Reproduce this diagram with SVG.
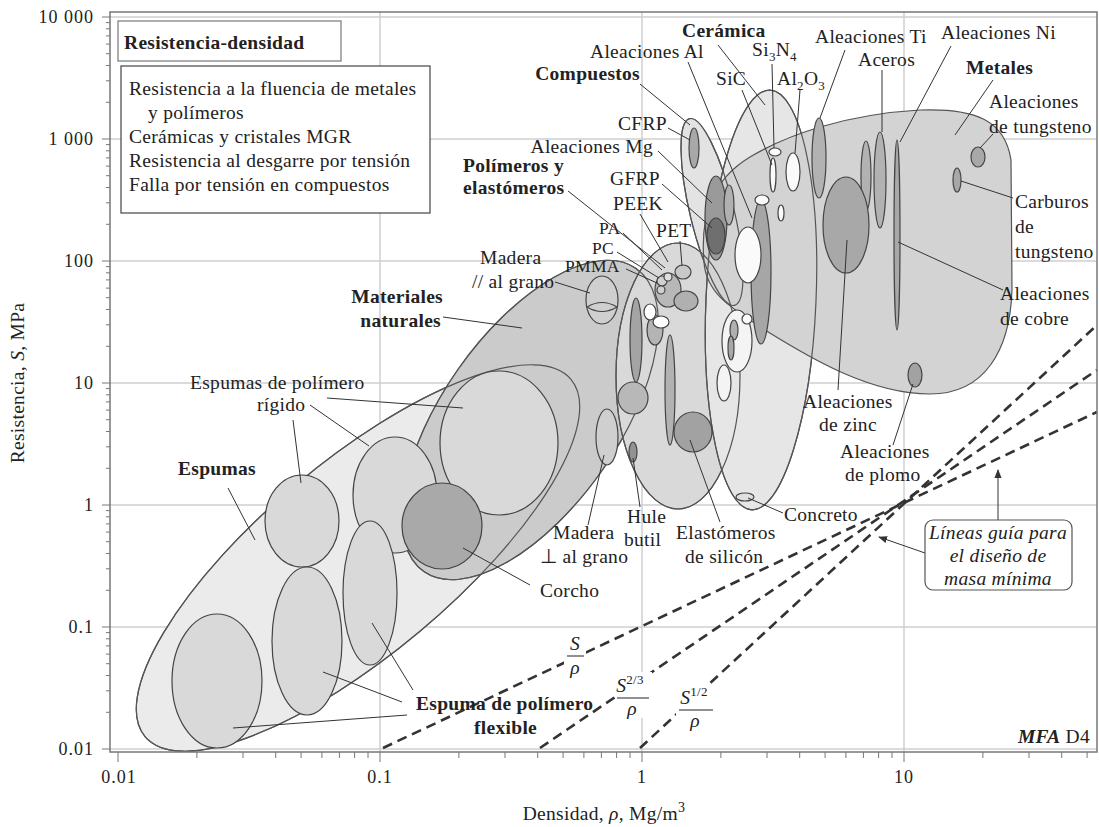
<svg xmlns="http://www.w3.org/2000/svg" width="1099" height="827" viewBox="0 0 1099 827">
<defs>
<marker id="ah" viewBox="0 0 10 10" refX="9" refY="5" markerWidth="9" markerHeight="9" orient="auto-start-reverse" markerUnits="userSpaceOnUse"><path d="M0,1 L10,5 L0,9 Z" fill="#333"/></marker>
<style>
text{font-family:"Liberation Serif","Times New Roman",serif;font-size:19.5px;letter-spacing:0.3px;fill:#222}
.b{font-weight:bold}
.i{font-style:italic}
.tk{font-size:18px;letter-spacing:1px}
.sub{font-size:13px}
.sm{font-size:17.5px;letter-spacing:0.3px}
.grid{stroke:#cfcfcf;stroke-width:1.5;fill:none}
.tick{stroke:#777;stroke-width:1;fill:none}
.env{stroke:#555;stroke-width:1.2}
.ol{stroke:#555;stroke-width:1.2;fill:none}
.bub{stroke:#444;stroke-width:1.2}
.ldr{stroke:#333;stroke-width:1;fill:none}
.gl{stroke:#333;stroke-width:2.6;stroke-dasharray:10 6;fill:none}
</style>
</defs>
<rect width="1099" height="827" fill="#fff"/>

<g id="grid">
<path class="grid" d="M110,17H1097M110,139H1097M110,261H1097M110,383H1097M110,505H1097M110,627H1097M110,749H1097M380,12V752M642,12V752M904,12V752"/>
</g>

<g id="envelopes">
<g id="espumas"><ellipse class="env" cx="358" cy="558" rx="278" ry="96" transform="rotate(-40 358 558)" fill="#ebebeb"/></g>
<g id="naturales"><ellipse class="env" cx="530" cy="420" rx="185" ry="88" transform="rotate(-55 530 420)" fill="#cbcbcb"/></g>
<g id="polimeros"><ellipse class="env" cx="678" cy="376" rx="62" ry="133" fill="#d9d9d9"/></g>
<g id="compuestos"><ellipse class="env" cx="712" cy="212" rx="22" ry="96" transform="rotate(-13.5 712 212)" fill="#e3e3e3"/></g>
<g id="ceramica"><ellipse class="env" cx="761" cy="300" rx="55" ry="210" transform="rotate(2.5 761 300)" fill="#e6e6e6"/></g>
<g id="metales"><path class="env" fill="#d3d3d3" d="M704,262 C700,215 712,180 750,157 C790,133 850,114 920,110 C975,108 1005,120 1011,160 L1012,290 C1010,350 985,394 930,394 C870,394 810,358 765,330 C735,310 706,295 704,262 Z"/></g>
<g id="outlines">
<ellipse class="ol" cx="358" cy="558" rx="278" ry="96" transform="rotate(-40 358 558)"/>
<ellipse class="ol" cx="530" cy="420" rx="185" ry="88" transform="rotate(-55 530 420)"/>
<ellipse class="ol" cx="678" cy="376" rx="62" ry="133"/>
<ellipse class="ol" cx="712" cy="212" rx="22" ry="96" transform="rotate(-13.5 712 212)"/>
<ellipse class="ol" cx="761" cy="300" rx="55" ry="210" transform="rotate(2.5 761 300)"/>
</g>
</g>

<g id="bubbles">
<g id="espumas-rigidas">
<ellipse class="bub" cx="302" cy="521" rx="37" ry="46" fill="#d9d9d9"/>
<ellipse class="bub" cx="395" cy="495" rx="42" ry="58" fill="#d9d9d9"/>
<ellipse class="bub" cx="499" cy="443" rx="59" ry="72" fill="#d9d9d9"/>
</g>
<g id="corcho"><ellipse class="bub" cx="442" cy="526" rx="40" ry="43" fill="#a9a9a9"/></g>
<g id="espumas-flexibles">
<ellipse class="bub" cx="217" cy="681" rx="45" ry="67" fill="#d9d9d9"/>
<ellipse class="bub" cx="307" cy="641" rx="35" ry="74" fill="#d9d9d9"/>
<ellipse class="bub" cx="370" cy="593" rx="27" ry="72" fill="#d9d9d9"/>
</g>
<g id="madera-par"><ellipse class="bub" cx="602" cy="300" rx="16" ry="24" fill="#cfcfcf"/><path class="bub" fill="none" d="M587,307 Q602,298 617,307 Q602,316 587,307"/></g>
<g id="madera-perp"><ellipse class="bub" cx="607" cy="437" rx="11" ry="28" fill="#cfcfcf"/></g>
<g id="polimeros-int">
<ellipse class="bub" cx="636" cy="340" rx="6" ry="42" fill="#a4a4a4"/>
<ellipse class="bub" cx="633" cy="398" rx="15" ry="16" fill="#b8b8b8"/>
<ellipse class="bub" cx="670" cy="390" rx="5" ry="55" fill="#b2b2b2"/>
<ellipse class="bub" cx="693" cy="432" rx="19" ry="20" fill="#a2a2a2"/>
<ellipse class="bub" cx="633" cy="452" rx="4" ry="10" fill="#929292"/>
<ellipse class="bub" cx="655" cy="330" rx="8" ry="15" fill="#b4b4b4"/>
<ellipse class="bub" cx="668" cy="290" rx="13" ry="17" fill="#b8b8b8"/>
<ellipse class="bub" cx="686" cy="301" rx="12" ry="10" fill="#b0b0b0"/>
<ellipse class="bub" cx="650" cy="312" rx="6" ry="8" fill="#ffffff"/>
<ellipse class="bub" cx="661" cy="322" rx="8" ry="6" fill="#ffffff"/>
<circle class="bub" cx="662" cy="281" r="5" fill="#d0d0d0"/>
<circle class="bub" cx="668" cy="277" r="4" fill="#e0e0e0"/>
<circle class="bub" cx="661" cy="290" r="4" fill="#d0d0d0"/>
<ellipse class="bub" cx="683" cy="272" rx="8" ry="7" fill="#c8c8c8"/>
</g>
<g id="compuestos-int">
<ellipse class="bub" cx="694" cy="148" rx="5" ry="20" fill="#a8a8a8"/>
<ellipse class="bub" cx="716" cy="218" rx="11" ry="42" fill="#9a9a9a"/>
<ellipse class="bub" cx="716" cy="236" rx="9" ry="18" fill="#6f6f6f"/>
</g>
<g id="metales-int">
<ellipse class="bub" cx="729" cy="205" rx="5" ry="20" fill="#b0b0b0"/>
<ellipse class="bub" cx="761" cy="272" rx="10" ry="72" fill="#a6a6a6"/>
<ellipse class="bub" cx="819" cy="158" rx="7" ry="40" fill="#b2b2b2"/>
<ellipse class="bub" cx="866" cy="176" rx="5" ry="35" fill="#b2b2b2"/>
<ellipse class="bub" cx="880" cy="180" rx="6" ry="48" fill="#b2b2b2"/>
<ellipse class="bub" cx="897" cy="235" rx="3" ry="95" fill="#a8a8a8"/>
<ellipse class="bub" cx="846" cy="225" rx="23" ry="48" fill="#a8a8a8"/>
<ellipse class="bub" cx="915" cy="375" rx="7" ry="12" fill="#a2a2a2"/>
<ellipse class="bub" cx="978" cy="157" rx="7" ry="10" fill="#a8a8a8"/>
<ellipse class="bub" cx="957" cy="180" rx="4" ry="12" fill="#a8a8a8"/>
</g>
<g id="ceramica-int">
<ellipse class="bub" cx="775" cy="152" rx="6" ry="4" fill="#fafafa"/>
<ellipse class="bub" cx="773" cy="175" rx="3" ry="17" fill="#fafafa"/>
<ellipse class="bub" cx="793" cy="172" rx="7" ry="19" fill="#fafafa"/>
<ellipse class="bub" cx="762" cy="200" rx="7" ry="5" fill="#fafafa"/>
<ellipse class="bub" cx="781" cy="213" rx="3" ry="8" fill="#fafafa"/>
<ellipse class="bub" cx="748" cy="255" rx="13" ry="28" fill="#fafafa"/>
<ellipse class="bub" cx="737" cy="341" rx="15" ry="31" fill="#f4f4f4"/>
<ellipse class="bub" cx="734" cy="330" rx="4" ry="10" fill="#b0b0b0"/>
<ellipse class="bub" cx="731" cy="348" rx="3" ry="12" fill="#a8a8a8"/>
<circle class="bub" cx="747" cy="319" r="5" fill="#fafafa"/>
<ellipse class="bub" cx="724" cy="383" rx="7" ry="18" fill="#f4f4f4"/>
<ellipse class="bub" cx="745" cy="497" rx="9" ry="4" fill="#e0e0e0"/>
</g>
</g>

<g id="guias">
<path class="gl" d="M383,748 L1097,412"/>
<path class="gl" d="M540,748 L1097,370"/>
<path class="gl" d="M640,748 L1097,325"/>
<rect x="564" y="633" width="22" height="44" fill="#fff"/>
<rect x="616" y="672" width="36" height="46" fill="#fff"/>
<rect x="676" y="684" width="40" height="46" fill="#fff"/>
</g>

<g id="connectors">
<path class="ldr" d="M718,45 L765,105"/>
<path class="ldr" d="M688,62 L752,218"/>
<path class="ldr" d="M772,64 L774,148"/>
<path class="ldr" d="M742,90 L772,165"/>
<path class="ldr" d="M800,90 L795,153"/>
<path class="ldr" d="M845,50 L820,118"/>
<path class="ldr" d="M882,70 L882,132"/>
<path class="ldr" d="M951,46 L900,142"/>
<path class="ldr" d="M993,80 L955,135"/>
<path class="ldr" d="M993,134 L980,148"/>
<path class="ldr" d="M640,84 L690,125"/>
<path class="ldr" d="M668,128 L690,140"/>
<path class="ldr" d="M658,151 L712,203"/>
<path class="ldr" d="M568,191 L665,268"/>
<path class="ldr" d="M662,184 L712,228"/>
<path class="ldr" d="M640,214 L668,262"/>
<path class="ldr" d="M623,233 L662,270"/>
<path class="ldr" d="M680,241 L682,266"/>
<path class="ldr" d="M617,252 L659,278"/>
<path class="ldr" d="M626,269 L657,283"/>
<path class="ldr" d="M555,282 L590,293"/>
<path class="ldr" d="M443,317 L522,328"/>
<path class="ldr" d="M1013,198 L961,181"/>
<path class="ldr" d="M1003,290 L898,242"/>
<path class="ldr" d="M327,398 L463,408"/>
<path class="ldr" d="M310,405 L369,446"/>
<path class="ldr" d="M293,420 L301,483"/>
<path class="ldr" d="M228,488 L255,540"/>
<path class="ldr" d="M463,548 L530,585"/>
<path class="ldr" d="M413,690 L372,623"/>
<path class="ldr" d="M402,702 L323,672"/>
<path class="ldr" d="M407,715 L233,728"/>
<path class="ldr" d="M838,390 L847,240"/>
<path class="ldr" d="M893,445 L913,384"/>
<path class="ldr" d="M783,513 L748,498"/>
<path class="ldr" d="M640,507 L633,458"/>
<path class="ldr" d="M588,525 L604,455"/>
<path class="ldr" d="M720,522 L690,440"/>
<path class="ldr" d="M998,520 L998,470" marker-end="url(#ah)"/>
<path class="ldr" d="M925,553 L879,537" marker-end="url(#ah)"/>
</g>

<g id="frame">
<rect x="110" y="12" width="987" height="740" fill="none" stroke="#777" stroke-width="1.5"/>
<path class="tick" d="M102,17H110M102,139H110M102,261H110M102,383H110M102,505H110M102,627H110M102,749H110
M106,712.3H110M106,690.8H110M106,675.5H110M106,663.7H110M106,654.1H110M106,645.9H110M106,638.8H110M106,632.6H110
M106,590.3H110M106,568.8H110M106,553.5H110M106,541.7H110M106,532.1H110M106,523.9H110M106,516.8H110M106,510.6H110
M106,468.3H110M106,446.8H110M106,431.5H110M106,419.7H110M106,410.1H110M106,401.9H110M106,394.8H110M106,388.6H110
M106,346.3H110M106,324.8H110M106,309.5H110M106,297.7H110M106,288.1H110M106,279.9H110M106,272.8H110M106,266.6H110
M106,224.3H110M106,202.8H110M106,187.5H110M106,175.7H110M106,166.1H110M106,157.9H110M106,150.8H110M106,144.6H110
M106,102.3H110M106,80.8H110M106,65.5H110M106,53.7H110M106,44.1H110M106,35.9H110M106,28.8H110M106,22.6H110
M118,752V762M380,752V762M642,752V762M904,752V762
M196.9,752V758M243,752V758M275.7,752V758M301.1,752V758M321.9,752V758M339.4,752V758M354.6,752V758M368,752V758
M458.9,752V758M505,752V758M537.7,752V758M563.1,752V758M583.9,752V758M601.4,752V758M616.6,752V758M630,752V758
M720.9,752V758M767,752V758M799.7,752V758M825.1,752V758M845.9,752V758M863.4,752V758M878.6,752V758M892,752V758
M982.9,752V758M1029,752V758M1061.7,752V758M1087.1,752V758"/>
</g>

<g id="axis-labels">
<text class="tk" x="94" y="23" text-anchor="end">10 000</text>
<text class="tk" x="94" y="145" text-anchor="end">1 000</text>
<text class="tk" x="94" y="267" text-anchor="end">100</text>
<text class="tk" x="94" y="389" text-anchor="end">10</text>
<text class="tk" x="94" y="511" text-anchor="end">1</text>
<text class="tk" x="94" y="633" text-anchor="end">0.1</text>
<text class="tk" x="94" y="755" text-anchor="end">0.01</text>
<text class="tk" x="119" y="783" text-anchor="middle">0.01</text>
<text class="tk" x="380" y="783" text-anchor="middle">0.1</text>
<text class="tk" x="642" y="783" text-anchor="middle">1</text>
<text class="tk" x="904" y="783" text-anchor="middle">10</text>
<text x="604" y="820" text-anchor="middle">Densidad, <tspan class="i">ρ</tspan>, Mg/m<tspan font-size="14" dy="-8">3</tspan></text>
<text x="24" y="383" text-anchor="middle" transform="rotate(-90 24 383)">Resistencia, <tspan class="i">S</tspan>, MPa</text>
</g>

<g id="legend">
<rect x="118" y="21" width="223" height="40" fill="#fff" stroke="#777" stroke-width="1.2"/>
<text class="b" x="124" y="49" font-size="24" letter-spacing="0.6">Resistencia-densidad</text>
<rect x="121" y="66" width="309" height="147" fill="#fff" stroke="#444" stroke-width="1.2"/>
<text x="129" y="95">Resistencia a la fluencia de metales</text>
<text x="148" y="119">y polímeros</text>
<text x="129" y="143">Cerámicas y cristales MGR</text>
<text x="129" y="167">Resistencia al desgarre por tensión</text>
<text x="129" y="191">Falla por tensión en compuestos</text>
</g>

<g id="labels">
<text class="b" x="682" y="37">Cerámica</text>
<text x="590" y="58">Aleaciones Al</text>
<text x="752" y="56">Si<tspan class="sub" dy="5">3</tspan><tspan dy="-5">N</tspan><tspan class="sub" dy="5">4</tspan></text>
<text x="716" y="85">SiC</text>
<text x="777" y="85">Al<tspan class="sub" dy="5">2</tspan><tspan dy="-5">O</tspan><tspan class="sub" dy="5">3</tspan></text>
<text x="815" y="43">Aleaciones Ti</text>
<text x="858" y="66">Aceros</text>
<text x="941" y="39">Aleaciones Ni</text>
<text class="b" x="966" y="74">Metales</text>
<text x="989" y="108">Aleaciones</text>
<text x="989" y="133">de tungsteno</text>
<text class="b" x="640" y="80" text-anchor="end">Compuestos</text>
<text x="618" y="130">CFRP</text>
<text x="653" y="153" text-anchor="end">Aleaciones Mg</text>
<text class="b" x="463" y="172">Polímeros y</text>
<text class="b" x="463" y="194">elastómeros</text>
<text x="610" y="185">GFRP</text>
<text x="613" y="210">PEEK</text>
<text class="sm" x="599" y="234">PA</text>
<text x="656" y="237">PET</text>
<text class="sm" x="592" y="254">PC</text>
<text class="sm" x="565" y="272">PMMA</text>
<text x="480" y="264">Madera</text>
<text x="472" y="288">// al grano</text>
<text class="b" x="443" y="303" text-anchor="end">Materiales</text>
<text class="b" x="441" y="327" text-anchor="end">naturales</text>
<text x="1015" y="208">Carburos</text>
<text x="1015" y="233">de</text>
<text x="1015" y="258">tungsteno</text>
<text x="1000" y="300">Aleaciones</text>
<text x="1000" y="325">de cobre</text>
<text x="190" y="389">Espumas de polímero</text>
<text x="257" y="411">rígido</text>
<text class="b" x="178" y="475">Espumas</text>
<text x="803" y="408">Aleaciones</text>
<text x="819" y="431">de zinc</text>
<text x="840" y="458">Aleaciones</text>
<text x="845" y="481">de plomo</text>
<text x="784" y="521">Concreto</text>
<text x="627" y="523">Hule</text>
<text x="624" y="546">butil</text>
<text x="553" y="539">Madera</text>
<text x="540" y="563">⊥ al grano</text>
<text x="676" y="539">Elastómeros</text>
<text x="685" y="563">de silicón</text>
<text x="540" y="597">Corcho</text>
<text class="b" x="416" y="710">Espuma de polímero</text>
<text class="b" x="474" y="734">flexible</text>
<text x="1090" y="743" text-anchor="end" font-size="13" letter-spacing="0"><tspan class="b i">MFA</tspan> D4</text>
</g>

<g id="guia-labels">
<text class="i" x="575" y="650" text-anchor="middle">S</text>
<path d="M567,656H584" stroke="#222" stroke-width="1"/>
<text class="i" x="575" y="674" text-anchor="middle">ρ</text>
<text class="i" x="630" y="692" text-anchor="middle">S<tspan font-size="13" dy="-8" font-style="normal">2/3</tspan></text>
<path d="M617,698H649" stroke="#222" stroke-width="1"/>
<text class="i" x="632" y="715" text-anchor="middle">ρ</text>
<text class="i" x="694" y="704" text-anchor="middle">S<tspan font-size="13" dy="-8" font-style="normal">1/2</tspan></text>
<path d="M679,710H713" stroke="#222" stroke-width="1"/>
<text class="i" x="695" y="727" text-anchor="middle">ρ</text>
</g>

<g id="nota">
<rect x="925" y="520" width="147" height="70" rx="8" fill="#fff" stroke="#555" stroke-width="1.2"/>
<text class="i" x="998" y="539" text-anchor="middle">Líneas guía para</text>
<text class="i" x="998" y="562" text-anchor="middle">el diseño de</text>
<text class="i" x="998" y="585" text-anchor="middle">masa mínima</text>
</g>
</svg>
